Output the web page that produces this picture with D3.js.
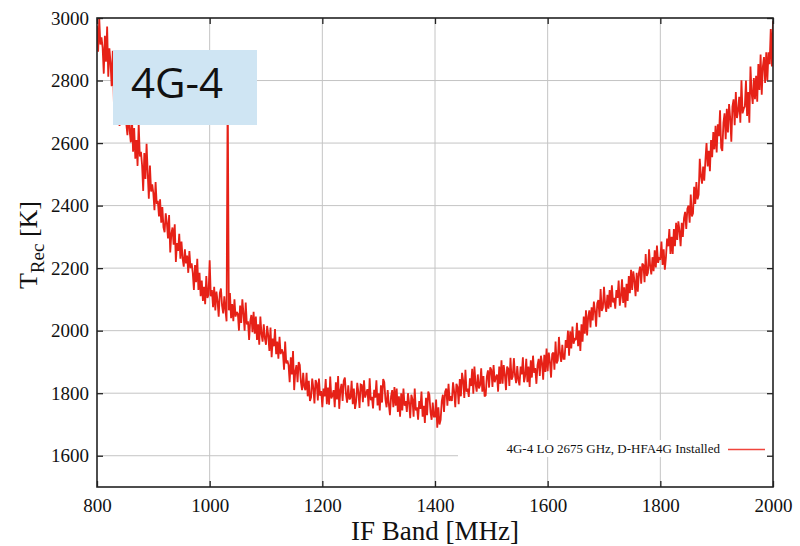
<!DOCTYPE html>
<html>
<head>
<meta charset="utf-8">
<script src="https://cdn.jsdelivr.net/npm/d3@7"></script>
<style>
  html, body { margin: 0; padding: 0; background: #fff; }
  svg { display: block; }
</style>
</head>
<body>
<svg id="chart" width="800" height="546"></svg>
<script>
// ---- data ----
const freqStart = 800, freqStep = 2; // MHz sample grid
const trecValues = [
2975,2892,2998,2915,2938, 2905,2822,2943,2860,2973, 2812,2903,2858,2782,2895, 2730,2820,2782,2865,2745, 2655,2745,2775,2692,2790,
2745,2662,2625,2708,2640, 2602,2685,2572,2648,2550, 2610,2527,2663,2557,2572, 2530,2447,2568,2485,2598, 2505,2422,2528,2445,2468,
2440,2385,2475,2405,2415, 2365,2420,2345,2395,2330, 2315,2375,2345,2295,2370, 2250,2310,2330,2275,2340, 2220,2280,2255,2310,2230,
2285,2230,2205,2260,2215, 2240,2185,2255,2200,2215, 2185,2130,2210,2155,2230, 2130,2185,2110,2160,2095, 2140,2085,2175,2105,2115,
2225,2110,2130,2075,2140, 2065,2125,2095,2045,2120, 2135,2080,2055,2110,2065, 2030,2790,2065,2120,2040, 2085,2030,2100,2045,2060,
2055,2000,2080,2025,2100, 2055,2000,2090,2020,2030, 1970,2030,2050,1995,2060, 1990,2045,1970,2020,1955, 2045,1990,1965,2020,1975,
1955,2015,1985,1935,2010, 1915,1975,1950,2005,1925, 1965,1910,1980,1925,1940, 1930,1875,1965,1895,1905, 1890,1835,1915,1860,1935,
1810,1870,1890,1835,1900, 1890,1835,1810,1865,1820, 1810,1865,1790,1840,1775, 1787,1847,1817,1767,1842, 1832,1777,1847,1792,1807,
1755,1815,1790,1845,1765, 1818,1763,1853,1783,1793, 1810,1755,1835,1780,1855, 1750,1810,1830,1775,1840, 1850,1795,1770,1825,1780,
1785,1840,1765,1815,1750, 1773,1833,1803,1753,1828, 1826,1771,1841,1786,1801, 1813,1758,1848,1778,1788, 1751,1811,1786,1841,1761,
1800,1745,1825,1770,1845, 1835,1780,1755,1810,1765, 1730,1790,1810,1755,1820, 1760,1815,1740,1790,1725, 1800,1745,1815,1760,1775,
1740,1800,1770,1720,1795, 1780,1725,1815,1745,1755, 1715,1775,1750,1805,1725, 1760,1705,1785,1730,1805, 1795,1740,1715,1770,1725,
1725,1780,1690,1755,1700, 1715,1775,1795,1740,1805, 1815,1760,1830,1775,1790, 1775,1835,1805,1755,1830, 1820,1765,1845,1790,1865,
1840,1785,1875,1805,1815, 1788,1848,1823,1878,1798, 1885,1830,1805,1860,1815, 1825,1880,1805,1855,1790, 1793,1853,1873,1818,1883,
1875,1820,1890,1835,1850, 1860,1805,1885,1830,1905, 1830,1890,1860,1810,1885, 1878,1823,1913,1843,1853, 1912,1857,1832,1887,1842,
1825,1885,1860,1915,1835, 1855,1910,1835,1885,1820, 1905,1850,1920,1865,1880, 1830,1890,1910,1855,1920, 1898,1843,1923,1868,1943,
1870,1930,1900,1850,1925, 1930,1875,1965,1895,1905, 1980,1925,1900,1955,1910, 1910,1970,1945,2000,1920, 1998,1943,2013,1958,1973,
1970,2025,1950,2000,1935, 2020,1965,2045,1990,2065, 1985,2045,2065,2010,2075, 2033,2093,2063,2013,2088, 2098,2043,2133,2063,2073,
2140,2085,2060,2115,2070, 2130,2075,2145,2090,2105, 2070,2130,2105,2160,2080, 2109,2164,2089,2139,2074, 2150,2095,2175,2120,2195,
2130,2190,2160,2110,2185, 2125,2185,2205,2150,2215, 2210,2155,2245,2175,2185, 2260,2205,2180,2235,2190, 2257,2202,2272,2217,2232,
2230,2285,2210,2260,2195, 2235,2295,2270,2325,2245, 2300,2245,2325,2270,2345, 2290,2350,2320,2270,2345, 2300,2360,2380,2325,2390,
2400,2345,2435,2365,2375, 2460,2405,2475,2420,2435, 2550,2495,2470,2525,2480, 2545,2600,2525,2575,2510, 2610,2555,2635,2580,2655,
2570,2660,2622,2705,2585, 2575,2665,2695,2612,2710, 2634,2725,2680,2604,2717, 2740,2657,2763,2680,2703, 2748,2665,2801,2695,2710,
2717,2800,2687,2763,2665, 2845,2762,2725,2808,2740, 2815,2732,2853,2770,2883, 2755,2845,2875,2792,2890, 2800,2890,2852,2965,2845,
2990
];
const freqs = trecValues.map((_, i) => freqStart + i * freqStep);
const xTicks = [800, 1000, 1200, 1400, 1600, 1800, 2000];
const yTicks = [1600, 1800, 2000, 2200, 2400, 2600, 2800, 3000];
const legendLabel = "4G-4 LO 2675 GHz, D-HFA4G Installed";
const boxLabel = "4G-4";

(function () {
// ---- layout ----
const svg = d3.select("#chart");
const L = 97, R = 773, T = 18, B = 487;
const x = d3.scaleLinear().domain([800, 2000]).range([L, R]);
const y = d3.scaleLinear().domain([1500, 3000]).range([B, T]);
const serif = "'Liberation Serif', 'Times New Roman', serif";

svg.append("defs").append("clipPath").attr("id", "plotclip")
  .append("rect").attr("x", L).attr("y", T).attr("width", R - L).attr("height", B - T);

// grid
const grid = svg.append("g");
grid.selectAll("line.gx").data(xTicks.slice(1, -1)).enter().append("line")
  .attr("x1", d => x(d)).attr("x2", d => x(d)).attr("y1", T).attr("y2", B)
  .attr("stroke", "#c4c4c4").attr("stroke-width", 1);
grid.selectAll("line.gy").data(yTicks.slice(0, -1)).enter().append("line")
  .attr("x1", L).attr("x2", R).attr("y1", d => y(d)).attr("y2", d => y(d))
  .attr("stroke", "#c4c4c4").attr("stroke-width", 1);

// legend background (hides grid)
svg.append("rect").attr("x", 458).attr("y", 440).attr("width", R - 458 - 1).attr("height", 17).attr("fill", "#fff");

// data line
const line = d3.line().x((d, i) => x(freqs[i])).y(d => y(d));
svg.append("path").datum(trecValues)
  .attr("clip-path", "url(#plotclip)")
  .attr("d", line).attr("fill", "none")
  .attr("stroke", "#e62117").attr("stroke-width", 1.8).attr("stroke-linejoin", "miter").attr("stroke-miterlimit", 2);

// label box
svg.append("rect").attr("x", 113).attr("y", 50).attr("width", 144).attr("height", 75).attr("fill", "#cfe5f3");
svg.append("text").attr("x", 131).attr("y", 98).text(boxLabel)
  .attr("font-family", "'Open Sans', 'Noto Sans', sans-serif").attr("font-size", 42).attr("fill", "#111");

// legend
svg.append("text").attr("x", 720).attr("y", 453).attr("text-anchor", "end").text(legendLabel)
  .attr("font-family", serif).attr("font-size", 13).attr("fill", "#111");
svg.append("line").attr("x1", 728).attr("x2", 765).attr("y1", 449.5).attr("y2", 449.5)
  .attr("stroke", "#f0453c").attr("stroke-width", 1.5);

// axes (ticks inward on all sides)
const tickLen = 6;
const axB = svg.append("g").attr("transform", `translate(0,${B})`)
  .call(d3.axisBottom(x).tickValues(xTicks).tickSize(-tickLen).tickPadding(10).tickFormat(d3.format("d")));
const axT = svg.append("g").attr("transform", `translate(0,${T})`)
  .call(d3.axisTop(x).tickValues(xTicks).tickSize(-tickLen).tickFormat(""));
const axL = svg.append("g").attr("transform", `translate(${L},0)`)
  .call(d3.axisLeft(y).tickValues(yTicks).tickSize(-tickLen).tickPadding(8).tickFormat(d3.format("d")));
const axR = svg.append("g").attr("transform", `translate(${R},0)`)
  .call(d3.axisRight(y).tickValues(yTicks).tickSize(-tickLen).tickFormat(""));
[axB, axT, axL, axR].forEach(g => {
  g.select(".domain").remove();
  g.selectAll(".tick line").attr("stroke", "#222").attr("stroke-width", 1.3);
  g.selectAll("text").attr("font-family", serif).attr("font-size", 19).attr("fill", "#111");
});
axB.selectAll("text").attr("dy", "0.71em").attr("y", 12);
axL.selectAll("text").attr("x", -8);

// frame
svg.append("rect").attr("x", L).attr("y", T).attr("width", R - L).attr("height", B - T)
  .attr("fill", "none").attr("stroke", "#222").attr("stroke-width", 1.6);

// axis titles
svg.append("text").attr("x", 435).attr("y", 540).attr("text-anchor", "middle")
  .attr("font-family", serif).attr("font-size", 27).attr("fill", "#111").text("IF Band [MHz]");
const yt = svg.append("text").attr("transform", "translate(37,245) rotate(-90)").attr("text-anchor", "middle")
  .attr("font-family", serif).attr("font-size", 26).attr("fill", "#111");
yt.append("tspan").text("T");
yt.append("tspan").attr("font-size", 19).attr("dy", 7).text("Rec");
yt.append("tspan").attr("dy", -7).text(" [K]");
})();
</script>
</body>
</html>
